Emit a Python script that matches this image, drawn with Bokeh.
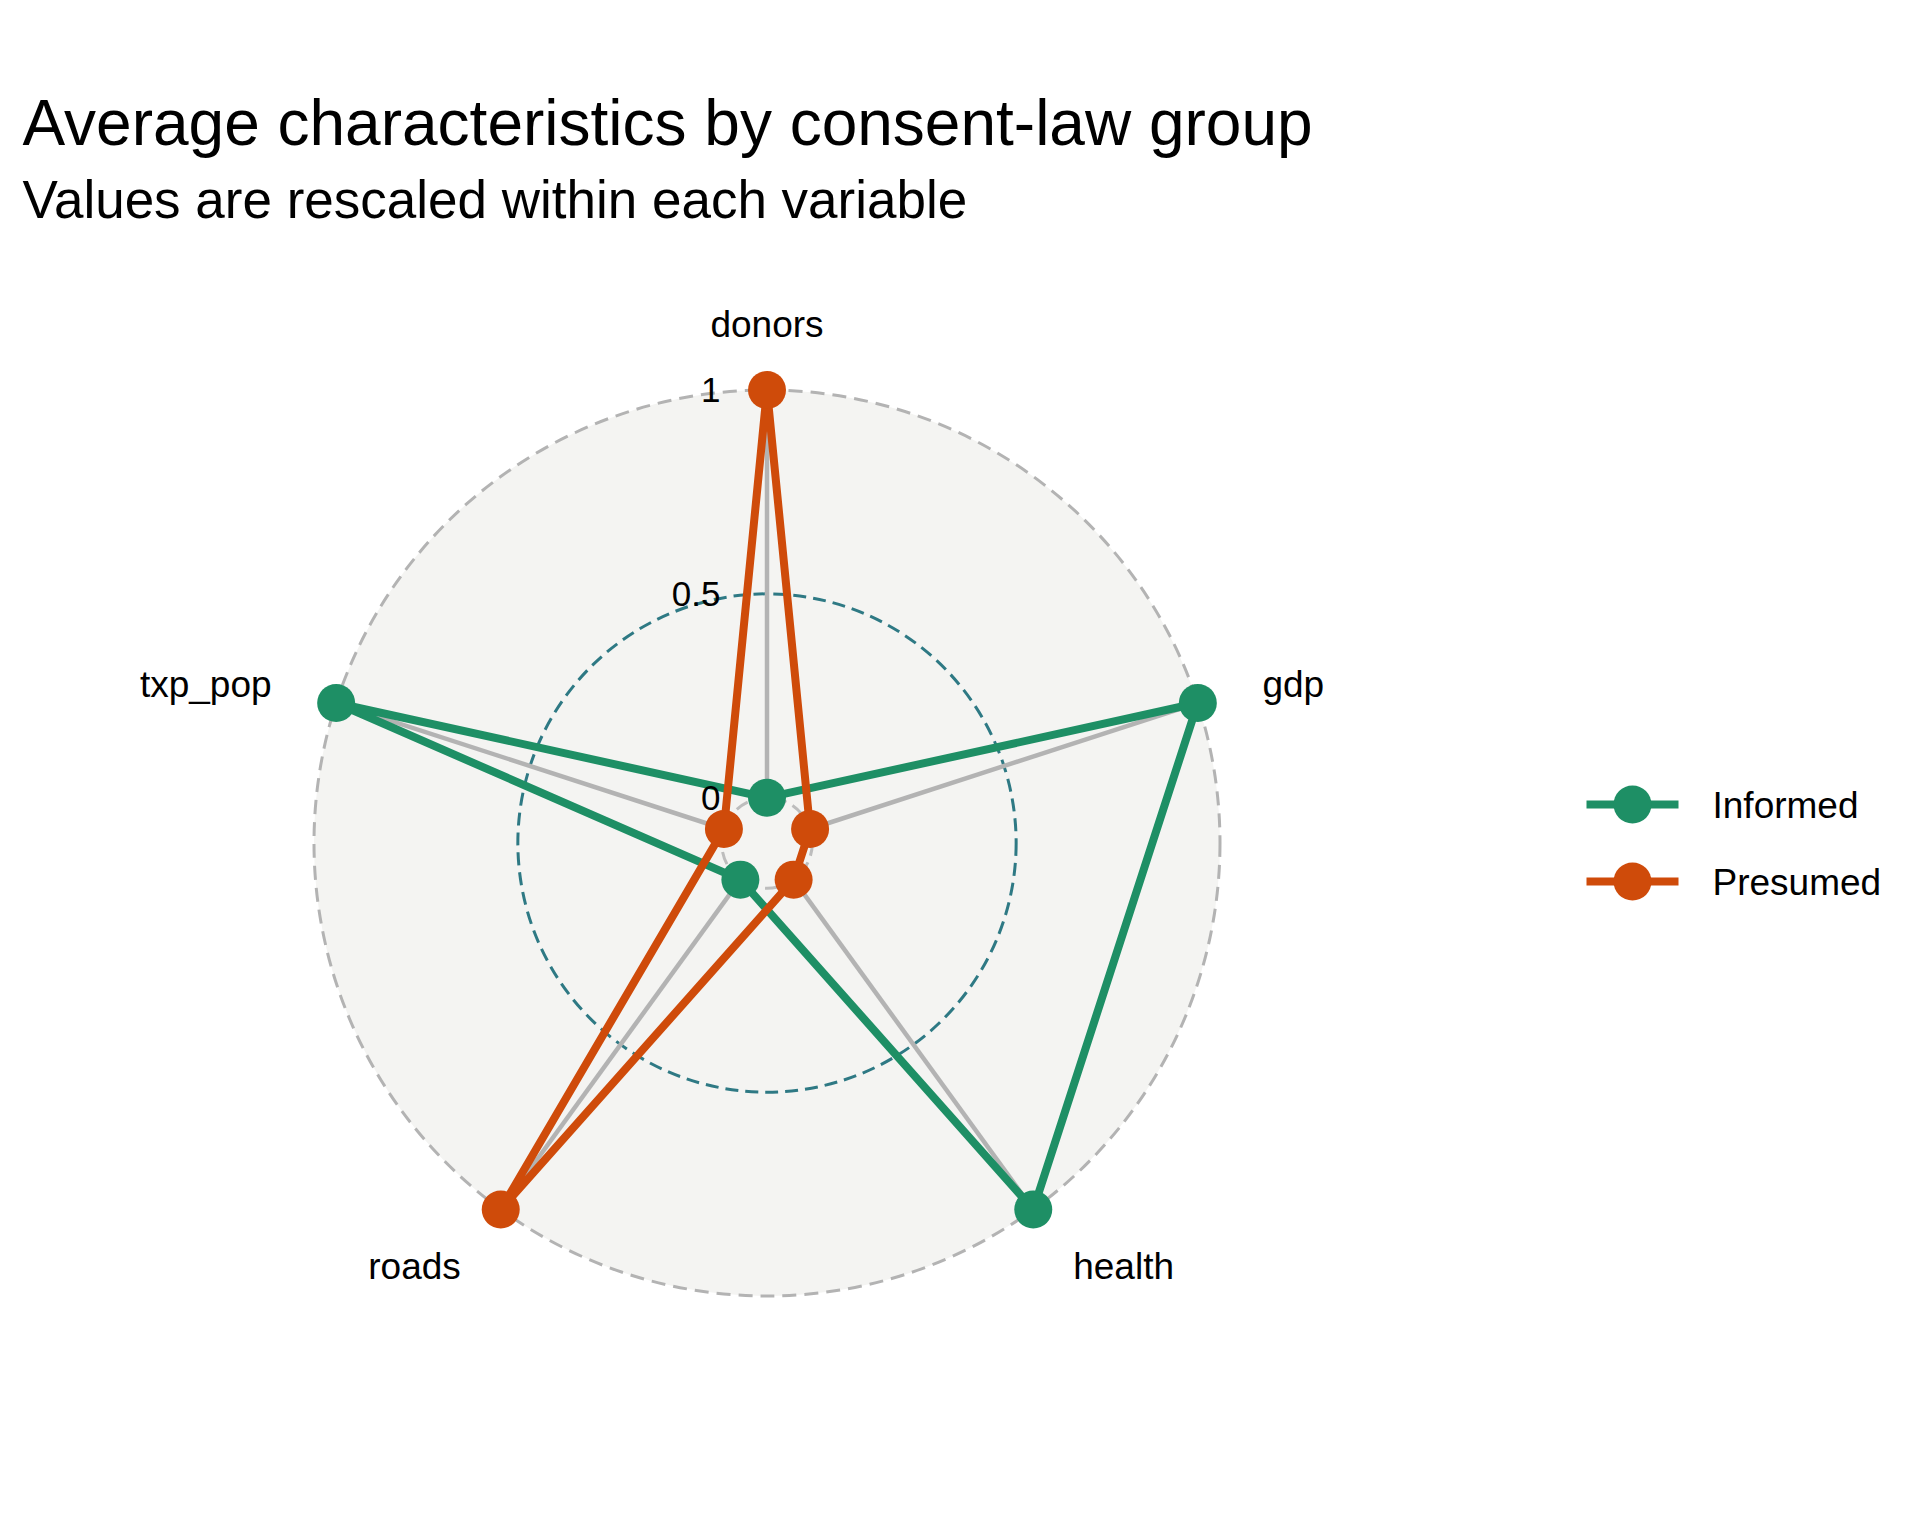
import numpy as np
from bokeh.plotting import figure
from bokeh.models import Range1d
from bokeh.core.properties import value
from bokeh.embed import file_html
from bokeh.resources import INLINE

# ---- data ----
variables = ["donors", "gdp", "health", "roads", "txp_pop"]
groups = ["Informed", "Presumed"]
informed = [0.0, 1.0, 1.0, 0.0, 1.0]
presumed = [1.0, 0.0, 0.0, 1.0, 0.0]
grid_values = [0.0, 0.5, 1.0]
grid_labels = ["0", "0.5", "1"]
title_text = "Average characteristics by consent-law group"
subtitle_text = "Values are rescaled within each variable"

colors = {"Informed": "#1E8F65", "Presumed": "#CF4B0A"}
FONT = "Liberation Sans"

# radial mapping (ggradar-like centre offset)
CENTRE = 1.0 / 9.0
def rad(v):
    return np.asarray(v, dtype=float) + CENTRE

n = len(variables)
theta = 2 * np.pi * np.arange(n) / n

# ---- canvas geometry ----
W, H = 1904, 1520
OFF = 0.0                      # observed page offset of the canvas
S = 453.0 / rad(1.0)          # px per unit
CX, CY = 766.5, 842.5          # px of centre
x0 = -(CX - OFF) / S
x1 = x0 + W / S
y1 = (CY - OFF) / S
y0 = y1 - H / S

def X(px):
    return x0 + (px - OFF) / S

def Y(py):
    return y1 - (py - OFF) / S

p = figure(width=W, height=H, output_backend="svg", toolbar_location=None,
           x_axis_type=None, y_axis_type=None,
           x_range=Range1d(x0, x1), y_range=Range1d(y0, y1),
           min_border=0, outline_line_color=None,
           background_fill_color="white", border_fill_color="white")

# background disc
p.circle(x=[0], y=[0], radius=float(rad(1.0)), fill_color="#F4F4F2",
         line_color=None)

# grid circles
grid_styles = {0.0: ("#BDBDBD", "13 7"), 0.5: ("#2E7984", "13 7"), 1.0: ("#B3B3B3", "14 8")}
for gv in grid_values:
    col, dash = grid_styles[gv]
    p.circle(x=[0], y=[0], radius=float(rad(gv)), fill_color=None,
             line_color=col, line_width=3, line_dash=dash)

# spokes
r_in, r_out = float(rad(0.0)), float(rad(1.0))
p.segment(x0=r_in * np.sin(theta), y0=r_in * np.cos(theta),
          x1=r_out * np.sin(theta), y1=r_out * np.cos(theta),
          line_color="#B3B3B3", line_width=4.5)

# series
series = {"Informed": informed, "Presumed": presumed}
pts = {}
for g in groups:
    r = rad(series[g])
    xs = r * np.sin(theta)
    ys = r * np.cos(theta)
    pts[g] = (xs, ys)
    p.line(x=list(xs) + [xs[0]], y=list(ys) + [ys[0]],
           line_color=colors[g], line_width=8, line_join="round")
for g in groups:
    xs, ys = pts[g]
    p.scatter(x=xs, y=ys, size=38, fill_color=colors[g], line_color=None)

# axis labels
lab_r = 1.15 * float(rad(1.0))
lx = lab_r * np.sin(theta)
ly = lab_r * np.cos(theta) - 2.5 / S
for i, v in enumerate(variables):
    align = "center" if abs(lx[i]) < 1e-6 else ("left" if lx[i] > 0 else "right")
    p.text(x=[lx[i]], y=[ly[i]], text=[v], text_align=align,
           text_baseline="middle", text_font=value(FONT),
           text_font_size="37px", text_color="black")

# grid labels
p.text(x=[X(720)] * len(grid_values), y=list(rad(grid_values)), text=grid_labels,
       text_align="right", text_baseline="middle", text_font=value(FONT),
       text_font_size="35px", text_color="black")

# title / subtitle
p.text(x=[X(22)], y=[Y(122.5)], text=[title_text], text_align="left",
       text_baseline="middle", text_font=value(FONT),
       text_font_size="64px", text_color="black")
p.text(x=[X(22)], y=[Y(198.5)], text=[subtitle_text], text_align="left",
       text_baseline="middle", text_font=value(FONT),
       text_font_size="53px", text_color="black")

# legend
leg_y = [804, 881]
for g, py in zip(groups, leg_y):
    p.line(x=[X(1586), X(1678)], y=[Y(py), Y(py)], line_color=colors[g], line_width=8)
    p.scatter(x=[X(1632)], y=[Y(py)], size=38, fill_color=colors[g], line_color=None)
    p.text(x=[X(1712)], y=[Y(py + 1)], text=[g], text_align="left",
           text_baseline="middle", text_font=value(FONT),
           text_font_size="37px", text_color="black")

open("out.html", "w").write(file_html(p, INLINE))
